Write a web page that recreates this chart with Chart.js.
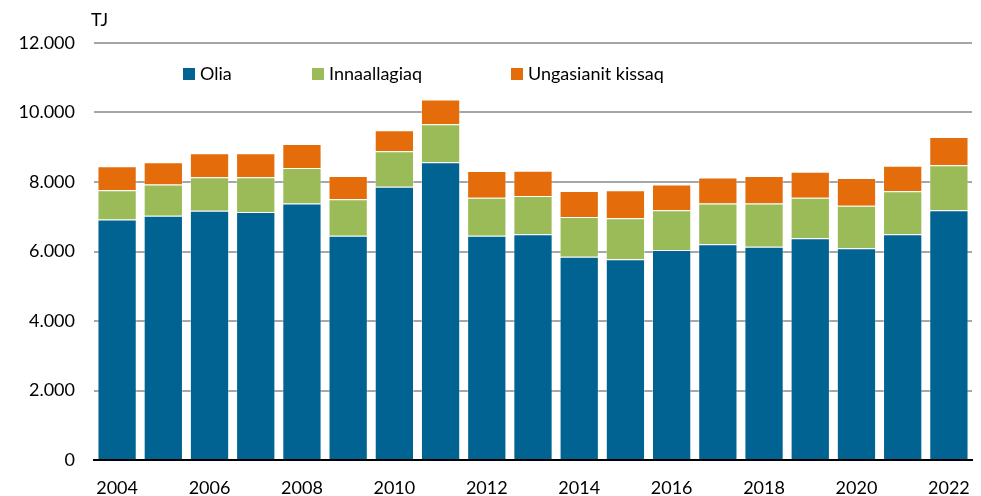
<!DOCTYPE html>
<html>
<head>
<meta charset="utf-8">
<script src="https://cdn.jsdelivr.net/npm/chart.js@4"></script>
<style>
html,body{margin:0;padding:0;background:#fff;}
#wrap{width:981px;height:496px;position:relative;}
</style>
</head>
<body>
<div id="wrap"><canvas id="c" width="981" height="496"></canvas></div>
<script>
const years = ["2004","2005","2006","2007","2008","2009","2010","2011","2012","2013","2014","2015","2016","2017","2018","2019","2020","2021","2022"];
const olia = [6920,7030,7170,7140,7380,6450,7860,8570,6450,6500,5850,5780,6040,6210,6140,6380,6090,6500,7190];
const innaallagiaq = [840,900,970,1000,1025,1055,1025,1095,1095,1095,1140,1180,1150,1170,1240,1170,1230,1235,1290];
const ungasianit = [690,640,690,690,690,670,605,710,775,730,750,805,740,750,795,745,795,730,815];
const seriesNames = ["Olia","Innaallagiaq","Ungasianit kissaq"];
const unitLabel = "TJ";

const colors = ["#006391","#9bbb59","#e46c0a"];
const FONT = "Lato, 'Open Sans', sans-serif";

function fmt(v){
  return String(v).replace(/\B(?=(\d{3})+(?!\d))/g, ".");
}

const overlay = {
  id:'overlay',
  afterDraw(chart){
    const ctx = chart.ctx;
    ctx.save();
    ctx.font = "18px " + FONT;
    ctx.fillStyle = "#000";
    ctx.textBaseline = "middle";
    ctx.textAlign = "left";
    ctx.fillText(unitLabel, 91, 20);
    const xs = [183, 312, 511];
    chart.data.datasets.forEach((ds,i)=>{
      ctx.fillStyle = ds.backgroundColor;
      ctx.fillRect(xs[i], 68, 12, 12);
      ctx.fillStyle = "#000";
      ctx.fillText(ds.label, xs[i]+17, 74);
    });
    ctx.restore();
  }
};

new Chart(document.getElementById('c'), {
  type:'bar',
  data:{
    labels: years,
    datasets:[
      {label:seriesNames[0], data:olia, backgroundColor:colors[0], borderColor:"rgba(255,255,255,0.35)", borderWidth:1},
      {label:seriesNames[1], data:innaallagiaq, backgroundColor:colors[1], borderColor:"rgba(255,255,255,0.35)", borderWidth:1},
      {label:seriesNames[2], data:ungasianit, backgroundColor:colors[2], borderColor:"rgba(255,255,255,0.35)", borderWidth:1}
    ]
  },
  options:{
    responsive:false,
    animation:false,
    layout:{padding:{top:43,right:9,bottom:0,left:0}},
    datasets:{bar:{barPercentage:0.85, categoryPercentage:1}},
    plugins:{legend:{display:false}, tooltip:{enabled:false}},
    scales:{
      x:{
        stacked:true,
        grid:{display:false, drawTicks:false},
        border:{display:true, color:"#000", width:2},
        ticks:{
          autoSkip:false, maxRotation:0, padding:17,
          color:"#000", font:{family:FONT, size:18},
          callback:function(v,i){ return i%2===0 ? this.getLabelForValue(v) : ""; }
        },
        afterFit(s){ s.height = 36; s.paddingRight = 0; s.paddingLeft = 0; }
      },
      y:{
        stacked:true, min:0, max:12000,
        ticks:{stepSize:2000, padding:19, color:"#000", font:{family:FONT, size:18}, callback:(v)=>fmt(v)},
        grid:{color:"#a6a6a6", lineWidth:2, drawTicks:false},
        border:{display:false},
        afterFit(s){ s.width = 94; s.paddingTop = 0; s.paddingBottom = 0; }
      }
    }
  },
  plugins:[overlay]
});
</script>
</body>
</html>
